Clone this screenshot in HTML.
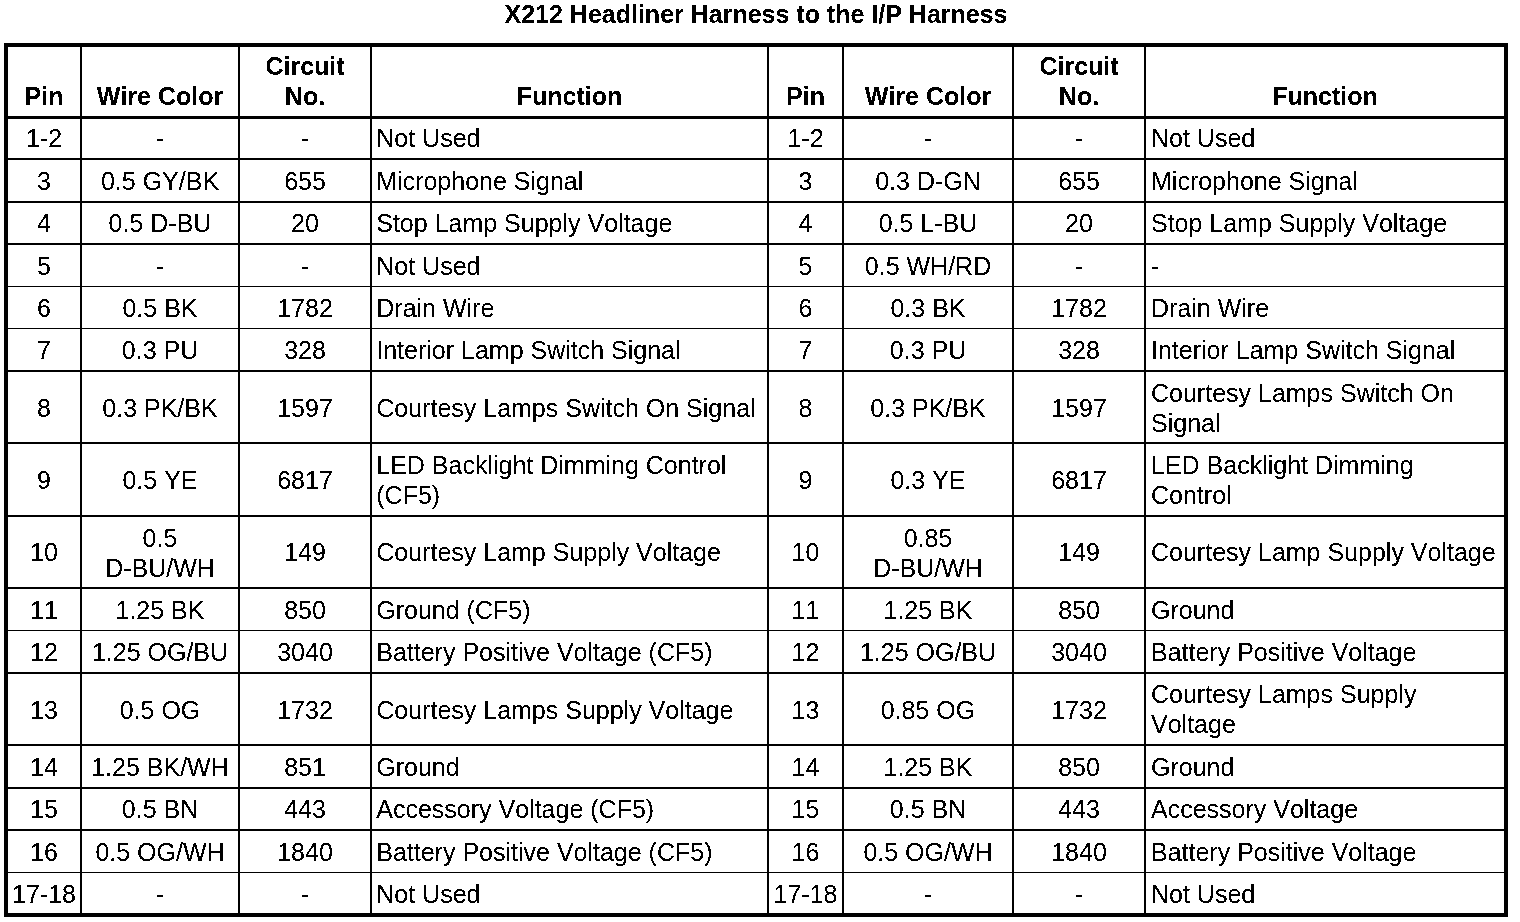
<!DOCTYPE html>
<html lang="en">
<head>
<meta charset="utf-8">
<title>X212 Headliner Harness to the I/P Harness</title>
<style>
html,body{margin:0;padding:0;background:#fff;}
body{width:1520px;height:922px;position:relative;overflow:hidden;
 font-family:"Liberation Sans",Arial,Helvetica,sans-serif;font-size:25px;line-height:28px;color:#000;font-kerning:none;}
#page{position:absolute;left:0;top:0;width:1520px;height:922px;background:#fff;filter:url(#bw);}
#box{position:absolute;left:4px;top:43px;width:1496px;height:866px;border:4px solid #000;}
.v,.h{position:absolute;background:#000;}
.t{position:absolute;height:28px;white-space:nowrap;font-kerning:none;font-feature-settings:"kern" 0,"liga" 0;}
.c{text-align:center;}
.b{font-weight:bold;}
h1{position:absolute;left:0;top:0;width:1520px;margin:0;font-size:25px;line-height:28px;font-weight:bold;text-align:center;white-space:nowrap;}
</style>
</head>
<body>
<svg width="0" height="0" style="position:absolute" aria-hidden="true"><defs>
<filter id="bw" x="0" y="0" width="100%" height="100%" color-interpolation-filters="sRGB">
<feColorMatrix type="matrix" values="0.33 0.34 0.33 0 0 0.33 0.34 0.33 0 0 0.33 0.34 0.33 0 0 0 0 0 1 0"/>
<feComponentTransfer><feFuncR type="discrete" tableValues="0 0 0 0 0 0 0 0 0 0 0 1 1 1 1 1 1 1 1 1"/><feFuncG type="discrete" tableValues="0 0 0 0 0 0 0 0 0 0 0 1 1 1 1 1 1 1 1 1"/><feFuncB type="discrete" tableValues="0 0 0 0 0 0 0 0 0 0 0 1 1 1 1 1 1 1 1 1"/></feComponentTransfer>
</filter></defs></svg>
<div id="page">
<h1 style="top:0px;left:-4px">X212 Headliner Harness to the I/P Harness</h1>
<div id="box"></div>
<div class="v" style="left:80px;top:47px;width:2px;height:866px"></div>
<div class="v" style="left:238px;top:47px;width:2px;height:866px"></div>
<div class="v" style="left:370px;top:47px;width:2px;height:866px"></div>
<div class="v" style="left:767px;top:47px;width:2px;height:866px"></div>
<div class="v" style="left:842px;top:47px;width:2px;height:866px"></div>
<div class="v" style="left:1012px;top:47px;width:2px;height:866px"></div>
<div class="v" style="left:1144px;top:47px;width:2px;height:866px"></div>
<div class="h" style="left:8px;top:116px;width:1496px;height:3px"></div>
<div class="h" style="left:8px;top:158px;width:1496px;height:2px"></div>
<div class="h" style="left:8px;top:201px;width:1496px;height:2px"></div>
<div class="h" style="left:8px;top:243px;width:1496px;height:2px"></div>
<div class="h" style="left:8px;top:286px;width:1496px;height:1px"></div>
<div class="h" style="left:8px;top:328px;width:1496px;height:1px"></div>
<div class="h" style="left:8px;top:370px;width:1496px;height:2px"></div>
<div class="h" style="left:8px;top:442px;width:1496px;height:2px"></div>
<div class="h" style="left:8px;top:515px;width:1496px;height:2px"></div>
<div class="h" style="left:8px;top:587px;width:1496px;height:2px"></div>
<div class="h" style="left:8px;top:630px;width:1496px;height:1px"></div>
<div class="h" style="left:8px;top:672px;width:1496px;height:2px"></div>
<div class="h" style="left:8px;top:744px;width:1496px;height:2px"></div>
<div class="h" style="left:8px;top:787px;width:1496px;height:2px"></div>
<div class="h" style="left:8px;top:829px;width:1496px;height:2px"></div>
<div class="h" style="left:8px;top:872px;width:1496px;height:1px"></div>
<!-- header -->
<div class="t c b" style="left:8px;width:72px;top:82px">Pin</div>
<div class="t c b" style="left:82px;width:156px;top:82px">Wire Color</div>
<div class="t c b" style="left:240px;width:130px;top:52px">Circuit</div>
<div class="t c b" style="left:240px;width:130px;top:82px">No.</div>
<div class="t c b" style="left:372px;width:395px;top:82px">Function</div>
<div class="t c b" style="left:769px;width:73px;top:82px">Pin</div>
<div class="t c b" style="left:844px;width:168px;top:82px">Wire Color</div>
<div class="t c b" style="left:1014px;width:130px;top:52px">Circuit</div>
<div class="t c b" style="left:1014px;width:130px;top:82px">No.</div>
<div class="t c b" style="left:1146px;width:358px;top:82px">Function</div>
<!-- row 1-2 -->
<div class="t c" style="left:8px;width:72px;top:124px">1-2</div>
<div class="t c" style="left:82px;width:156px;top:124px">-</div>
<div class="t c" style="left:240px;width:130px;top:124px">-</div>
<div class="t" style="left:376.25px;top:124px">Not Used</div>
<div class="t c" style="left:769px;width:73px;top:124px">1-2</div>
<div class="t c" style="left:844px;width:168px;top:124px">-</div>
<div class="t c" style="left:1014px;width:130px;top:124px">-</div>
<div class="t" style="left:1151px;top:124px">Not Used</div>
<!-- row 3 -->
<div class="t c" style="left:8px;width:72px;top:167px">3</div>
<div class="t c" style="left:82px;width:156px;top:167px">0.5 GY/BK</div>
<div class="t c" style="left:240px;width:130px;top:167px">655</div>
<div class="t" style="left:376.25px;top:167px">Microphone Signal</div>
<div class="t c" style="left:769px;width:73px;top:167px">3</div>
<div class="t c" style="left:844px;width:168px;top:167px">0.3 D-GN</div>
<div class="t c" style="left:1014px;width:130px;top:167px">655</div>
<div class="t" style="left:1151px;top:167px">Microphone Signal</div>
<!-- row 4 -->
<div class="t c" style="left:8px;width:72px;top:209px">4</div>
<div class="t c" style="left:82px;width:156px;top:209px">0.5 D-BU</div>
<div class="t c" style="left:240px;width:130px;top:209px">20</div>
<div class="t" style="left:376.25px;top:209px">Stop Lamp Supply Voltage</div>
<div class="t c" style="left:769px;width:73px;top:209px">4</div>
<div class="t c" style="left:844px;width:168px;top:209px">0.5 L-BU</div>
<div class="t c" style="left:1014px;width:130px;top:209px">20</div>
<div class="t" style="left:1151px;top:209px">Stop Lamp Supply Voltage</div>
<!-- row 5 -->
<div class="t c" style="left:8px;width:72px;top:252px">5</div>
<div class="t c" style="left:82px;width:156px;top:252px">-</div>
<div class="t c" style="left:240px;width:130px;top:252px">-</div>
<div class="t" style="left:376.25px;top:252px">Not Used</div>
<div class="t c" style="left:769px;width:73px;top:252px">5</div>
<div class="t c" style="left:844px;width:168px;top:252px">0.5 WH/RD</div>
<div class="t c" style="left:1014px;width:130px;top:252px">-</div>
<div class="t" style="left:1151px;top:252px">-</div>
<!-- row 6 -->
<div class="t c" style="left:8px;width:72px;top:294px">6</div>
<div class="t c" style="left:82px;width:156px;top:294px">0.5 BK</div>
<div class="t c" style="left:240px;width:130px;top:294px">1782</div>
<div class="t" style="left:376.25px;top:294px">Drain Wire</div>
<div class="t c" style="left:769px;width:73px;top:294px">6</div>
<div class="t c" style="left:844px;width:168px;top:294px">0.3 BK</div>
<div class="t c" style="left:1014px;width:130px;top:294px">1782</div>
<div class="t" style="left:1151px;top:294px">Drain Wire</div>
<!-- row 7 -->
<div class="t c" style="left:8px;width:72px;top:336px">7</div>
<div class="t c" style="left:82px;width:156px;top:336px">0.3 PU</div>
<div class="t c" style="left:240px;width:130px;top:336px">328</div>
<div class="t" style="left:376.25px;top:336px">Interior Lamp Switch Signal</div>
<div class="t c" style="left:769px;width:73px;top:336px">7</div>
<div class="t c" style="left:844px;width:168px;top:336px">0.3 PU</div>
<div class="t c" style="left:1014px;width:130px;top:336px">328</div>
<div class="t" style="left:1151px;top:336px">Interior Lamp Switch Signal</div>
<!-- row 8 -->
<div class="t c" style="left:8px;width:72px;top:394px">8</div>
<div class="t c" style="left:82px;width:156px;top:394px">0.3 PK/BK</div>
<div class="t c" style="left:240px;width:130px;top:394px">1597</div>
<div class="t" style="left:376.25px;top:394px">Courtesy Lamps Switch On Signal</div>
<div class="t c" style="left:769px;width:73px;top:394px">8</div>
<div class="t c" style="left:844px;width:168px;top:394px">0.3 PK/BK</div>
<div class="t c" style="left:1014px;width:130px;top:394px">1597</div>
<div class="t" style="left:1151px;top:379px">Courtesy Lamps Switch On</div>
<div class="t" style="left:1151px;top:409px">Signal</div>
<!-- row 9 -->
<div class="t c" style="left:8px;width:72px;top:466px">9</div>
<div class="t c" style="left:82px;width:156px;top:466px">0.5 YE</div>
<div class="t c" style="left:240px;width:130px;top:466px">6817</div>
<div class="t" style="left:376.25px;top:451px">LED Backlight Dimming Control</div>
<div class="t" style="left:376.25px;top:481px">(CF5)</div>
<div class="t c" style="left:769px;width:73px;top:466px">9</div>
<div class="t c" style="left:844px;width:168px;top:466px">0.3 YE</div>
<div class="t c" style="left:1014px;width:130px;top:466px">6817</div>
<div class="t" style="left:1151px;top:451px">LED Backlight Dimming</div>
<div class="t" style="left:1151px;top:481px">Control</div>
<!-- row 10 -->
<div class="t c" style="left:8px;width:72px;top:538px">10</div>
<div class="t c" style="left:82px;width:156px;top:524px">0.5</div>
<div class="t c" style="left:82px;width:156px;top:554px">D-BU/WH</div>
<div class="t c" style="left:240px;width:130px;top:538px">149</div>
<div class="t" style="left:376.25px;top:538px">Courtesy Lamp Supply Voltage</div>
<div class="t c" style="left:769px;width:73px;top:538px">10</div>
<div class="t c" style="left:844px;width:168px;top:524px">0.85</div>
<div class="t c" style="left:844px;width:168px;top:554px">D-BU/WH</div>
<div class="t c" style="left:1014px;width:130px;top:538px">149</div>
<div class="t" style="left:1151px;top:538px">Courtesy Lamp Supply Voltage</div>
<!-- row 11 -->
<div class="t c" style="left:8px;width:72px;top:596px">11</div>
<div class="t c" style="left:82px;width:156px;top:596px">1.25 BK</div>
<div class="t c" style="left:240px;width:130px;top:596px">850</div>
<div class="t" style="left:376.25px;top:596px">Ground (CF5)</div>
<div class="t c" style="left:769px;width:73px;top:596px">11</div>
<div class="t c" style="left:844px;width:168px;top:596px">1.25 BK</div>
<div class="t c" style="left:1014px;width:130px;top:596px">850</div>
<div class="t" style="left:1151px;top:596px">Ground</div>
<!-- row 12 -->
<div class="t c" style="left:8px;width:72px;top:638px">12</div>
<div class="t c" style="left:82px;width:156px;top:638px">1.25 OG/BU</div>
<div class="t c" style="left:240px;width:130px;top:638px">3040</div>
<div class="t" style="left:376.25px;top:638px">Battery Positive Voltage (CF5)</div>
<div class="t c" style="left:769px;width:73px;top:638px">12</div>
<div class="t c" style="left:844px;width:168px;top:638px">1.25 OG/BU</div>
<div class="t c" style="left:1014px;width:130px;top:638px">3040</div>
<div class="t" style="left:1151px;top:638px">Battery Positive Voltage</div>
<!-- row 13 -->
<div class="t c" style="left:8px;width:72px;top:696px">13</div>
<div class="t c" style="left:82px;width:156px;top:696px">0.5 OG</div>
<div class="t c" style="left:240px;width:130px;top:696px">1732</div>
<div class="t" style="left:376.25px;top:696px">Courtesy Lamps Supply Voltage</div>
<div class="t c" style="left:769px;width:73px;top:696px">13</div>
<div class="t c" style="left:844px;width:168px;top:696px">0.85 OG</div>
<div class="t c" style="left:1014px;width:130px;top:696px">1732</div>
<div class="t" style="left:1151px;top:680px">Courtesy Lamps Supply</div>
<div class="t" style="left:1151px;top:710px">Voltage</div>
<!-- row 14 -->
<div class="t c" style="left:8px;width:72px;top:753px">14</div>
<div class="t c" style="left:82px;width:156px;top:753px">1.25 BK/WH</div>
<div class="t c" style="left:240px;width:130px;top:753px">851</div>
<div class="t" style="left:376.25px;top:753px">Ground</div>
<div class="t c" style="left:769px;width:73px;top:753px">14</div>
<div class="t c" style="left:844px;width:168px;top:753px">1.25 BK</div>
<div class="t c" style="left:1014px;width:130px;top:753px">850</div>
<div class="t" style="left:1151px;top:753px">Ground</div>
<!-- row 15 -->
<div class="t c" style="left:8px;width:72px;top:795px">15</div>
<div class="t c" style="left:82px;width:156px;top:795px">0.5 BN</div>
<div class="t c" style="left:240px;width:130px;top:795px">443</div>
<div class="t" style="left:376.25px;top:795px">Accessory Voltage (CF5)</div>
<div class="t c" style="left:769px;width:73px;top:795px">15</div>
<div class="t c" style="left:844px;width:168px;top:795px">0.5 BN</div>
<div class="t c" style="left:1014px;width:130px;top:795px">443</div>
<div class="t" style="left:1151px;top:795px">Accessory Voltage</div>
<!-- row 16 -->
<div class="t c" style="left:8px;width:72px;top:838px">16</div>
<div class="t c" style="left:82px;width:156px;top:838px">0.5 OG/WH</div>
<div class="t c" style="left:240px;width:130px;top:838px">1840</div>
<div class="t" style="left:376.25px;top:838px">Battery Positive Voltage (CF5)</div>
<div class="t c" style="left:769px;width:73px;top:838px">16</div>
<div class="t c" style="left:844px;width:168px;top:838px">0.5 OG/WH</div>
<div class="t c" style="left:1014px;width:130px;top:838px">1840</div>
<div class="t" style="left:1151px;top:838px">Battery Positive Voltage</div>
<!-- row 17-18 -->
<div class="t c" style="left:8px;width:72px;top:880px">17-18</div>
<div class="t c" style="left:82px;width:156px;top:880px">-</div>
<div class="t c" style="left:240px;width:130px;top:880px">-</div>
<div class="t" style="left:376.25px;top:880px">Not Used</div>
<div class="t c" style="left:769px;width:73px;top:880px">17-18</div>
<div class="t c" style="left:844px;width:168px;top:880px">-</div>
<div class="t c" style="left:1014px;width:130px;top:880px">-</div>
<div class="t" style="left:1151px;top:880px">Not Used</div>
</div>
</body>
</html>
